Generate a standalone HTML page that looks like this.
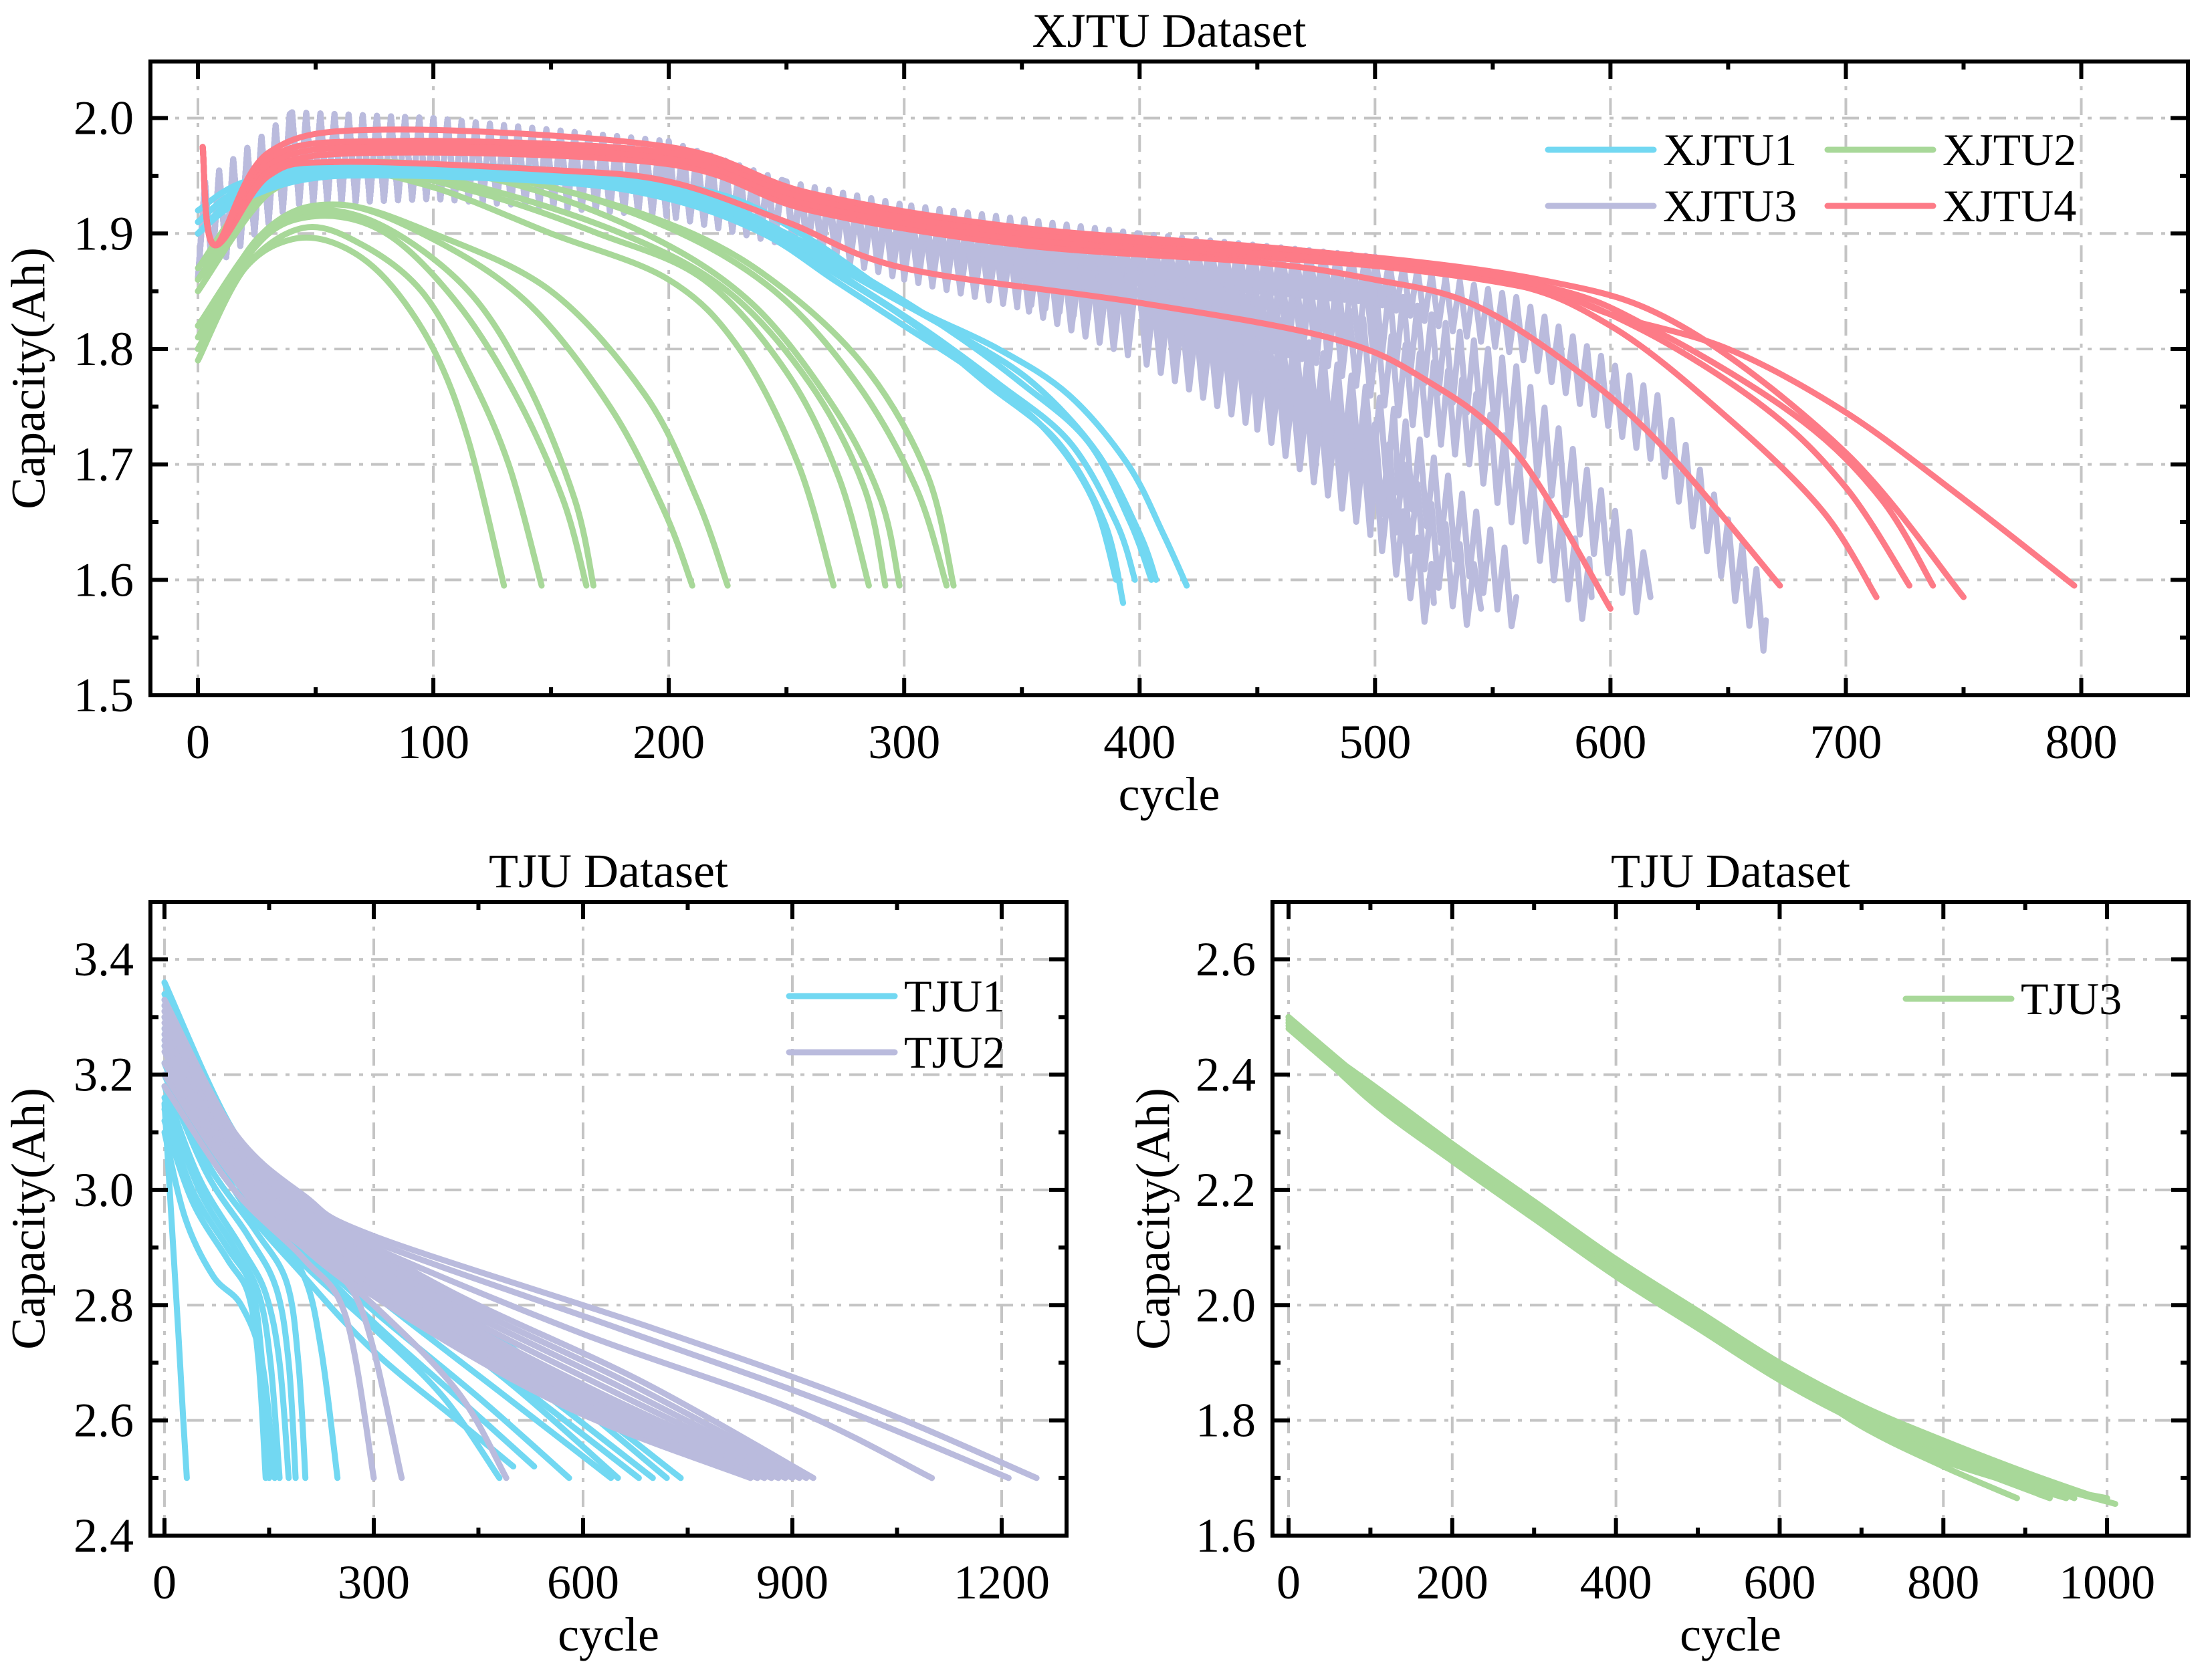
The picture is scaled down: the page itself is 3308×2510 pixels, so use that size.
<!DOCTYPE html>
<html><head><meta charset="utf-8"><style>
html,body{margin:0;padding:0;background:#fff;}
svg{display:block;}
text{font-family:"Liberation Serif","Times New Roman",serif;fill:#000;}
</style></head><body>
<svg id="fig" xmlns="http://www.w3.org/2000/svg" width="3308" height="2510" viewBox="0 0 3308 2510" font-family="Liberation Serif, serif">
<rect x="0" y="0" width="3308" height="2510" fill="#fff"/>
</svg>
<script>
// ---------- DATA ----------
const xjtuXTicks=[0,100,200,300,400,500,600,700,800];
const xjtuYTicks=[1.5,1.6,1.7,1.8,1.9,2.0];
const tjuLXTicks=[0,300,600,900,1200];
const tjuLYTicks=[2.4,2.6,2.8,3.0,3.2,3.4];
const tjuRXTicks=[0,200,400,600,800,1000];
const tjuRYTicks=[1.6,1.8,2.0,2.2,2.4,2.6];

const xjtu2=[
[[0,1.80],[20,1.87],[40,1.895],[60,1.89],[80,1.86],[100,1.80],[115,1.72],[130,1.595]],
[[0,1.79],[20,1.87],[45,1.905],[70,1.89],[95,1.85],[115,1.78],[132,1.70],[146,1.595]],
[[0,1.80],[25,1.89],[50,1.915],[80,1.90],[110,1.84],[135,1.76],[155,1.67],[165,1.595]],
[[0,1.81],[25,1.895],[50,1.92],[80,1.905],[115,1.85],[140,1.77],[160,1.67],[168,1.595]],
[[0,1.82],[30,1.90],[60,1.925],[100,1.895],[140,1.84],[175,1.75],[198,1.66],[210,1.595]],
[[0,1.82],[30,1.905],[60,1.925],[100,1.90],[150,1.85],[190,1.76],[212,1.67],[225,1.595]],
[[0,1.85],[30,1.935],[60,1.955],[100,1.94],[150,1.90],[200,1.86],[230,1.80],[255,1.70],[270,1.595]],
[[0,1.85],[30,1.935],[70,1.955],[120,1.935],[170,1.90],[215,1.86],[250,1.78],[272,1.69],[285,1.595]],
[[0,1.86],[30,1.94],[70,1.958],[120,1.94],[180,1.90],[225,1.85],[260,1.77],[283,1.68],[292,1.595]],
[[0,1.86],[30,1.94],[70,1.96],[130,1.945],[190,1.90],[235,1.84],[270,1.75],[290,1.67],[298,1.595]],
[[0,1.86],[30,1.945],[70,1.962],[140,1.945],[200,1.905],[245,1.85],[280,1.77],[305,1.68],[318,1.595]],
[[0,1.87],[30,1.945],[80,1.962],[150,1.94],[210,1.90],[250,1.85],[285,1.78],[310,1.69],[321,1.595]]
];
const xjtu1=[
[[0,1.90],[20,1.93],[60,1.95],[150,1.945],[200,1.93],[240,1.90],[270,1.86],[300,1.82],[330,1.78],[360,1.73],[380,1.67],[390,1.60]],
[[0,1.90],[20,1.935],[60,1.952],[150,1.945],[205,1.93],[245,1.895],[275,1.86],[305,1.82],[335,1.77],[365,1.72],[385,1.65],[393,1.58]],
[[0,1.91],[20,1.94],[60,1.955],[150,1.95],[210,1.93],[250,1.895],[280,1.855],[310,1.815],[340,1.77],[370,1.72],[390,1.65],[398,1.60]],
[[0,1.91],[20,1.94],[60,1.955],[150,1.95],[210,1.935],[250,1.90],[285,1.86],[320,1.815],[350,1.77],[378,1.72],[396,1.65],[405,1.60]],
[[0,1.90],[20,1.935],[60,1.95],[150,1.945],[215,1.93],[255,1.89],[290,1.85],[325,1.81],[355,1.77],[382,1.71],[400,1.64],[407,1.60]],
[[0,1.92],[20,1.945],[60,1.96],[150,1.955],[220,1.935],[260,1.895],[300,1.84],[340,1.80],[370,1.76],[395,1.70],[410,1.64],[420,1.595]]
];
// XJTU3 bands: [cycle, mid capacity, half oscillation amplitude]
const xjtu3=[
[[0,1.90,0.04],[40,1.965,0.04],[100,1.965,0.035],[200,1.945,0.03],[250,1.915,0.025],[300,1.885,0.025],[350,1.86,0.025],[400,1.82,0.03],[450,1.76,0.03],[500,1.67,0.035],[525,1.58,0.03]],
[[0,1.90,0.04],[40,1.965,0.04],[100,1.965,0.035],[200,1.945,0.03],[250,1.915,0.025],[300,1.89,0.025],[350,1.865,0.025],[400,1.835,0.03],[450,1.785,0.03],[500,1.70,0.035],[545,1.575,0.03]],
[[0,1.90,0.04],[40,1.965,0.04],[100,1.965,0.035],[200,1.945,0.03],[250,1.915,0.025],[300,1.89,0.025],[400,1.845,0.03],[460,1.795,0.03],[510,1.71,0.035],[560,1.585,0.03]],
[[0,1.90,0.04],[40,1.965,0.04],[100,1.965,0.035],[200,1.95,0.03],[250,1.92,0.025],[300,1.895,0.025],[400,1.86,0.03],[480,1.815,0.03],[540,1.735,0.035],[592,1.585,0.03]],
[[0,1.90,0.04],[40,1.965,0.04],[100,1.965,0.035],[200,1.95,0.03],[250,1.92,0.025],[300,1.90,0.025],[400,1.87,0.03],[500,1.83,0.03],[560,1.75,0.035],[617,1.585,0.03]],
[[0,1.90,0.04],[40,1.965,0.04],[100,1.965,0.035],[200,1.95,0.03],[250,1.92,0.025],[300,1.90,0.025],[400,1.88,0.02],[500,1.86,0.02],[560,1.82,0.025],[620,1.73,0.03],[666,1.565,0.03]]
];
const xjtu4=[
[[2,1.975],[7,1.89],[30,1.95],[60,1.962],[150,1.955],[200,1.945],[250,1.91],[300,1.87],[400,1.84],[480,1.81],[520,1.775],[560,1.71],[600,1.575]],
[[2,1.975],[7,1.89],[30,1.955],[80,1.97],[200,1.96],[260,1.92],[350,1.89],[450,1.875],[500,1.86],[540,1.84],[580,1.79],[620,1.72],[672,1.595]],
[[2,1.975],[7,1.89],[30,1.96],[80,1.975],[200,1.965],[260,1.925],[350,1.895],[450,1.88],[550,1.86],[600,1.82],[650,1.74],[690,1.66],[713,1.585]],
[[2,1.975],[7,1.89],[30,1.96],[80,1.975],[200,1.965],[260,1.925],[350,1.895],[460,1.88],[560,1.855],[610,1.82],[665,1.75],[700,1.68],[727,1.595]],
[[2,1.975],[7,1.89],[30,1.965],[80,1.98],[200,1.97],[260,1.93],[350,1.90],[470,1.88],[570,1.855],[620,1.815],[680,1.74],[715,1.67],[737,1.595]],
[[2,1.975],[7,1.89],[30,1.965],[80,1.98],[200,1.97],[260,1.93],[350,1.90],[470,1.885],[570,1.86],[630,1.82],[700,1.71],[750,1.585]],
[[2,1.975],[7,1.89],[30,1.97],[80,1.99],[200,1.975],[260,1.935],[350,1.905],[470,1.885],[560,1.86],[600,1.83],[650,1.80],[700,1.745],[750,1.67],[797,1.595]]
];
const tju1=[
[[0,3.15],[10,2.95],[20,2.75],[27,2.6],[32,2.5]],
[[0,3.12],[40,2.98],[90,2.88],[120,2.82],[135,2.70],[145,2.50]],
[[0,3.14],[40,3.0],[90,2.90],[125,2.83],[140,2.70],[150,2.50]],
[[0,3.10],[30,2.95],[70,2.85],[110,2.80],[140,2.70],[158,2.50]],
[[0,3.16],[50,3.0],[100,2.90],[135,2.82],[152,2.70],[165,2.50]],
[[0,3.18],[50,3.02],[110,2.90],[145,2.82],[165,2.70],[178,2.50]],
[[0,3.20],[60,3.03],[120,2.92],[160,2.83],[178,2.70],[188,2.50]],
[[0,3.22],[60,3.05],[130,2.93],[175,2.84],[192,2.70],[202,2.50]],
[[0,3.22],[70,3.05],[150,2.93],[200,2.85],[225,2.72],[248,2.50]],
[[0,3.25],[100,3.0],[200,2.87],[300,2.76],[400,2.64],[480,2.50]],
[[0,3.26],[100,3.0],[200,2.85],[300,2.72],[420,2.60],[500,2.52]],
[[0,3.27],[100,3.02],[200,2.89],[300,2.77],[420,2.64],[530,2.52]],
[[0,3.28],[100,3.03],[200,2.90],[300,2.79],[450,2.64],[580,2.50]],
[[0,3.30],[100,3.05],[200,2.92],[320,2.80],[480,2.65],[640,2.50]],
[[0,3.32],[100,3.07],[200,2.94],[330,2.82],[500,2.66],[650,2.50]],
[[0,3.33],[100,3.08],[200,2.95],[340,2.82],[510,2.66],[680,2.50]],
[[0,3.34],[100,3.09],[200,2.96],[350,2.83],[520,2.67],[700,2.50]],
[[0,3.36],[100,3.10],[200,2.97],[360,2.84],[540,2.68],[720,2.50]],
[[0,3.36],[100,3.10],[200,2.98],[380,2.83],[560,2.67],[740,2.50]]
];
const tju2=[
[[0,3.18],[100,3.0],[200,2.88],[260,2.78],[300,2.50]],
[[0,3.20],[100,3.02],[200,2.90],[280,2.80],[340,2.50]],
[[0,3.22],[100,3.03],[200,2.90],[300,2.80],[420,2.65],[490,2.50]],
[[0,3.24],[100,3.02],[200,2.90],[400,2.74],[600,2.61],[840,2.50]],
[[0,3.25],[100,3.03],[200,2.91],[400,2.75],[600,2.62],[850,2.50]],
[[0,3.26],[100,3.04],[200,2.92],[400,2.76],[600,2.63],[860,2.50]],
[[0,3.27],[100,3.05],[200,2.93],[400,2.77],[600,2.64],[870,2.50]],
[[0,3.28],[100,3.06],[200,2.94],[400,2.78],[610,2.645],[880,2.50]],
[[0,3.29],[100,3.07],[200,2.95],[400,2.79],[620,2.65],[890,2.50]],
[[0,3.30],[100,3.075],[200,2.955],[400,2.80],[635,2.655],[900,2.50]],
[[0,3.31],[100,3.08],[200,2.96],[400,2.81],[650,2.66],[910,2.50]],
[[0,3.32],[100,3.09],[200,2.97],[400,2.82],[665,2.665],[920,2.50]],
[[0,3.33],[100,3.10],[200,2.98],[400,2.83],[680,2.67],[930,2.50]],
[[0,3.30],[100,3.08],[200,2.97],[300,2.90],[600,2.75],[900,2.62],[1100,2.50]],
[[0,3.31],[100,3.09],[200,2.98],[300,2.91],[650,2.76],[950,2.63],[1210,2.50]],
[[0,3.32],[100,3.10],[200,2.99],[300,2.92],[700,2.76],[1000,2.63],[1250,2.50]]
];
const tju3=[
[[0,2.50],[100,2.37],[200,2.265],[300,2.165],[400,2.065],[500,1.975],[600,1.885],[700,1.79],[800,1.72],[890,1.665]],
[[0,2.49],[100,2.365],[200,2.26],[300,2.16],[400,2.06],[500,1.97],[600,1.88],[700,1.81],[800,1.74],[900,1.69]],
[[0,2.50],[100,2.375],[200,2.27],[300,2.17],[400,2.07],[500,1.98],[600,1.89],[700,1.815],[800,1.745],[920,1.67]],
[[0,2.48],[100,2.36],[200,2.255],[300,2.155],[400,2.055],[500,1.965],[600,1.875],[700,1.80],[800,1.73],[950,1.665]],
[[0,2.49],[100,2.37],[200,2.265],[300,2.165],[400,2.065],[500,1.975],[600,1.885],[700,1.81],[800,1.75],[900,1.70],[960,1.665]],
[[0,2.50],[100,2.38],[200,2.275],[300,2.175],[400,2.075],[500,1.985],[600,1.895],[700,1.82],[800,1.755],[900,1.70],[980,1.67]],
[[0,2.495],[100,2.375],[200,2.27],[300,2.17],[400,2.07],[500,1.98],[600,1.89],[700,1.815],[800,1.75],[900,1.695],[1000,1.665]],
[[0,2.50],[100,2.38],[200,2.27],[300,2.17],[400,2.07],[500,1.98],[600,1.89],[700,1.82],[800,1.76],[900,1.70],[1010,1.655]],
[[0,2.485],[100,2.385],[200,2.28],[300,2.18],[400,2.08],[500,1.99],[600,1.90],[700,1.825],[800,1.765],[900,1.71],[990,1.665]],
[[0,2.49],[100,2.355],[200,2.25],[300,2.15],[400,2.05],[500,1.96],[600,1.87],[700,1.795],[800,1.735],[930,1.665]]
];

// ---------- RENDER ----------
const NS='http://www.w3.org/2000/svg';
const svg=document.getElementById('fig');
const FONT='"Liberation Serif", "Times New Roman", serif';
function el(tag,attrs,parent){const e=document.createElementNS(NS,tag);for(const k in attrs)e.setAttribute(k,attrs[k]);if(tag==='text')e.style.fontFamily=FONT;(parent||svg).appendChild(e);return e;}
const C={cyan:'#72d8f2',green:'#a8d899',lav:'#babbdd',red:'#fd7b87'};
const LW=9;

function makeAxes(o){
  const sx=c=>o.x0+(c-o.cMin)*(o.x1-o.x0)/(o.cMax-o.cMin);
  const sy=v=>o.y1-(v-o.vMin)*(o.y1-o.y0)/(o.vMax-o.vMin);
  const g=el('g',{});
  
  
  const grid=el('g',{},g);
  
  
  o.xt.forEach(t=>{el('line',{x1:sx(t),x2:sx(t),y1:o.y0,y2:o.y1,stroke:'#c4c4c4','stroke-width':4,'stroke-dasharray':'25 12 6 12'},grid);});
  o.yt.forEach(t=>{if(t===o.vMin)return;el('line',{x1:o.x0,x2:o.x1,y1:sy(t),y2:sy(t),stroke:'#c4c4c4','stroke-width':4,'stroke-dasharray':'25 12 6 12'},grid);});
  const plot=el('g',{},g);
  
  
  return {sx,sy,g,plot,o};
}
function finishAxes(A){
  const {sx,sy,g,o}=A;
  const tk=el('g',{stroke:'#000','stroke-width':6},g);
  
  
  const xs=o.xt[1]-o.xt[0], ys=o.yt[1]-o.yt[0];
  o.xt.forEach(t=>{
    [[t,26],[t+xs/2,12]].forEach(([v,L])=>{
      if(sx(v)>o.x1-2)return;
      el('line',{x1:sx(v),x2:sx(v),y1:o.y1,y2:o.y1-L},tk);
      el('line',{x1:sx(v),x2:sx(v),y1:o.y0,y2:o.y0+L},tk);
    });
  });
  o.yt.forEach(t=>{
    [[t,26],[t+ys/2,12]].forEach(([v,L])=>{
      if(sy(v)<o.y0+2)return;
      el('line',{x1:o.x0,x2:o.x0+L,y1:sy(v),y2:sy(v)},tk);
      el('line',{x1:o.x1,x2:o.x1-L,y1:sy(v),y2:sy(v)},tk);
    });
  });
  const fr=el('rect',{x:o.x0,y:o.y0,width:o.x1-o.x0,height:o.y1-o.y0,fill:'none',stroke:'#000','stroke-width':6},g);
  
  
  o.xt.forEach(t=>{
    const tx=el('text',{x:sx(t),y:o.y1+94,'font-size':72,'text-anchor':'middle'},g);tx.textContent=String(t);
    
    
  });
  o.yt.forEach(t=>{
    const tx=el('text',{x:o.x0-25,y:sy(t)+24,'font-size':72,'text-anchor':'end'},g);tx.textContent=t.toFixed(1);
    
    
  });
  const ti=el('text',{x:(o.x0+o.x1)/2,y:o.y0-22,'font-size':72,'text-anchor':'middle'},g);ti.textContent=o.title;
  
  
  const xl=el('text',{x:(o.x0+o.x1)/2,y:o.y1+172,'font-size':72,'text-anchor':'middle'},g);xl.textContent='cycle';
  
  
  const cy=(o.y0+o.y1)/2;
  const yl=el('text',{x:o.ylx,y:cy,'font-size':72,'text-anchor':'middle',transform:`rotate(-90 ${o.ylx} ${cy})`,'dominant-baseline':'middle'},g);yl.textContent='Capacity(Ah)';
  
  
}
function smoothPath(P){
  let d='M'+P[0][0].toFixed(1)+' '+P[0][1].toFixed(1);
  for(let i=0;i<P.length-1;i++){
    const p0=P[Math.max(0,i-1)],p1=P[i],p2=P[i+1],p3=P[Math.min(P.length-1,i+2)];
    const c1=[p1[0]+(p2[0]-p0[0])/6,p1[1]+(p2[1]-p0[1])/6];
    const c2=[p2[0]-(p3[0]-p1[0])/6,p2[1]-(p3[1]-p1[1])/6];
    d+=` C${c1[0].toFixed(1)} ${c1[1].toFixed(1)} ${c2[0].toFixed(1)} ${c2[1].toFixed(1)} ${p2[0].toFixed(1)} ${p2[1].toFixed(1)}`;
  }
  return d;
}
function line(A,pts,color,name){
  const P=pts.map(p=>[A.sx(p[0]),A.sy(p[1])]);
  const p=el('path',{d:smoothPath(P),fill:'none',stroke:color,'stroke-width':LW,'stroke-linejoin':'round','stroke-linecap':'round'},A.plot);
  
  
}
function band(A,pts,color,name){
  const segs=[];
  for(let i=0;i<pts.length-1;i++){
    const [c0,m0,a0]=pts[i],[c1,m1,a1]=pts[i+1];
    for(let c=c0;c<c1;c+=3){
      const f=(c-c0)/(c1-c0);const m=m0+(m1-m0)*f,a=a0+(a1-a0)*f;
      const k=Math.round(c/3)%2?1:-1;
      segs.push([c,m+k*a]);
    }
  }
  const last=pts[pts.length-1];segs.push([last[0],last[1]]);
  const d=segs.map((p,i)=>(i?'L':'M')+A.sx(p[0]).toFixed(1)+' '+A.sy(p[1]).toFixed(1)).join(' ');
  const p=el('path',{d,fill:'none',stroke:color,'stroke-width':LW,'stroke-linejoin':'round','stroke-linecap':'round'},A.plot);
  
  
}
function legend(A,items){
  const g=el('g',{},A.g);
  
  
  items.forEach(([lx,ly,label,color])=>{
    const e=el('g',{},g);
    
    
    el('line',{x1:lx,x2:lx+158,y1:ly,y2:ly,stroke:color,'stroke-width':9,'stroke-linecap':'round'},e);
    const t=el('text',{x:lx+172,y:ly+23,'font-size':68},e);t.textContent=label;
  });
}

const A1=makeAxes({name:'xjtu-chart',x0:225,x1:3272,y0:92,y1:1040,cMin:-20.17,cMax:845.3,vMin:1.5,vMax:2.049,xt:xjtuXTicks,yt:xjtuYTicks,title:'XJTU Dataset',ylx:50});
xjtu3.forEach(c=>band(A1,c,C.lav,'xjtu3-line'));
xjtu2.forEach(c=>line(A1,c,C.green,'xjtu2-line'));
xjtu1.forEach(c=>line(A1,c,C.cyan,'xjtu1-line'));
xjtu4.forEach(c=>line(A1,c,C.red,'xjtu4-line'));
finishAxes(A1);
legend(A1,[[2315,224,'XJTU1',C.cyan],[2733,224,'XJTU2',C.green],[2315,308,'XJTU3',C.lav],[2733,308,'XJTU4',C.red]]);

const A2=makeAxes({name:'tju-left-chart',x0:225,x1:1595,y0:1349,y1:2297,cMin:-20.1,cMax:1293,vMin:2.4,vMax:3.5,xt:tjuLXTicks,yt:tjuLYTicks,title:'TJU Dataset',ylx:50});
tju1.forEach(c=>line(A2,c,C.cyan,'tju1-line'));
tju2.forEach(c=>line(A2,c,C.lav,'tju2-line'));
finishAxes(A2);
legend(A2,[[1180,1490,'TJU1',C.cyan],[1180,1574,'TJU2',C.lav]]);

const A3=makeAxes({name:'tju-right-chart',x0:1903,x1:3273,y0:1349,y1:2297,cMin:-19.6,cMax:1099.6,vMin:1.6,vMax:2.7,xt:tjuRXTicks,yt:tjuRYTicks,title:'TJU Dataset',ylx:1732});
tju3.forEach(c=>line(A3,c,C.green,'tju3-line'));
finishAxes(A3);
legend(A3,[[2850,1494,'TJU3',C.green]]);
</script>
</body></html>
